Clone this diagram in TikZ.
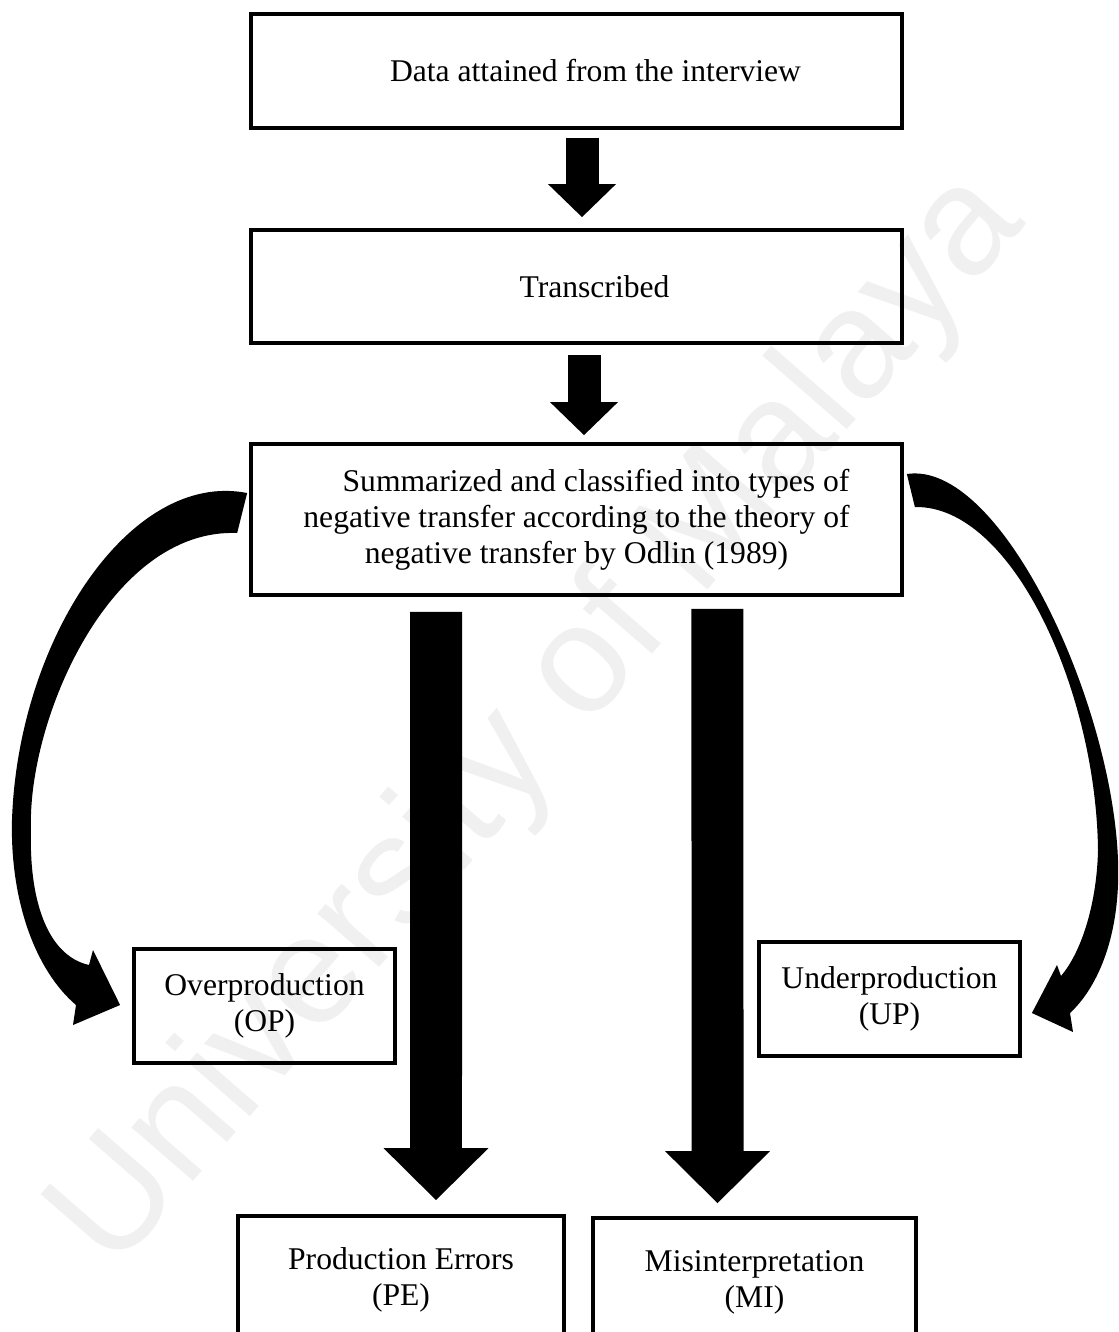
\documentclass[tikz,border=0pt]{standalone}
\usepackage{fontspec}
\setmainfont{Liberation Serif}
\newfontfamily\wmfont{Liberation Sans}
\usetikzlibrary{arrows.meta, positioning, calc}

\begin{document}
\begin{tikzpicture}[x=0.02cm, y=-0.02cm]
    \tikzset{box/.style = {shape=rectangle, draw, line width=2.2pt, inner sep=0pt, align=center, font=\fontsize{18}{20.5}\selectfont}}
    \tikzset{smallarrow/.style = {line width=0.66cm, -{Triangle[length=0.66cm, width=1.36cm, line width=0pt]}}}
    \tikzset{bigarrow/.style = {line width=1.04cm, -{Triangle[length=1.04cm, width=2.1cm, line width=0pt]}}}
    \useasboundingbox (0,0) rectangle (1119,1332);
    % watermark
    \node[text=black!6, font=\wmfont\fontsize{88}{88}\selectfont, rotate=49] (wm) at (540,722) {University of Malaya};
    % boxes
    \node[box, minimum width=13.02cm, minimum height=2.28cm] (data) at (576.5,71) {\hspace*{0.76cm}Data attained from the interview};
    \node[box, minimum width=13.02cm, minimum height=2.26cm] (trans) at (576.5,286.5) {\hspace*{0.72cm}Transcribed};
    \node[box, minimum width=13.02cm, minimum height=3.02cm] (sum) at (576.5,519.5) {\hspace*{0.78cm}Summarized and classified into types of\\negative transfer according to the theory of\\negative transfer by Odlin (1989)};
    \node[box, minimum width=5.22cm, minimum height=2.28cm] (op) at (264.5,1006) {Overproduction\\(OP)};
    \node[box, minimum width=5.22cm, minimum height=2.28cm] (up) at (889.5,999) {Underproduction\\(UP)};
    \node[box, minimum width=6.52cm, minimum height=2.56cm] (pe) at (401,1280) {Production Errors\\(PE)};
    \node[box, minimum width=6.46cm, minimum height=2.56cm] (mi) at (754.5,1282) {Misinterpretation\\(MI)};
    % straight arrows
    \draw[smallarrow] ([xshift=0.11cm,yshift=-0.16cm]data.south) -- ([xshift=0.11cm,yshift=0.22cm]trans.north);
    \draw[smallarrow] ([xshift=0.15cm,yshift=-0.2cm]trans.south) -- ([xshift=0.15cm,yshift=0.14cm]sum.north);
    \draw[bigarrow] ([xshift=-2.81cm,yshift=-0.3cm]sum.south) -- ([xshift=0.7cm,yshift=0.28cm]pe.north);
    \draw[bigarrow] ([xshift=2.82cm,yshift=-0.24cm]sum.south) -- ([xshift=-0.74cm,yshift=0.26cm]mi.north);
    % curved arrows
    \fill ($(sum.west)+(-2,-26.5)$) .. controls (130,470) and (18,640) .. (12,820)
        .. controls (10,900) and (35,970) .. (76,1005)
        -- (73,1025) -- ($(op.west)+(-12,-1)$) -- (93,950) -- (89,965)
        .. controls (45,955) and (29,895) .. (31,830)
        .. controls (27,720) and (110,528) .. ($(sum.west)+(-12,13.5)$) -- cycle;
    \fill ($(sum.east)+(3,-45.5)$) .. controls (1000,460) and (1112,700) .. (1118,860)
        .. controls (1121,940) and (1095,990) .. (1070,1013)
        -- (1073,1032) -- ($(up.east)+(10,14)$) -- (1057,965) -- (1061,976)
        .. controls (1083,950) and (1097,900) .. (1098,850)
        .. controls (1096,690) and (1012,505) .. ($(sum.east)+(11,-12.5)$) -- cycle;
\end{tikzpicture}
\end{document}
